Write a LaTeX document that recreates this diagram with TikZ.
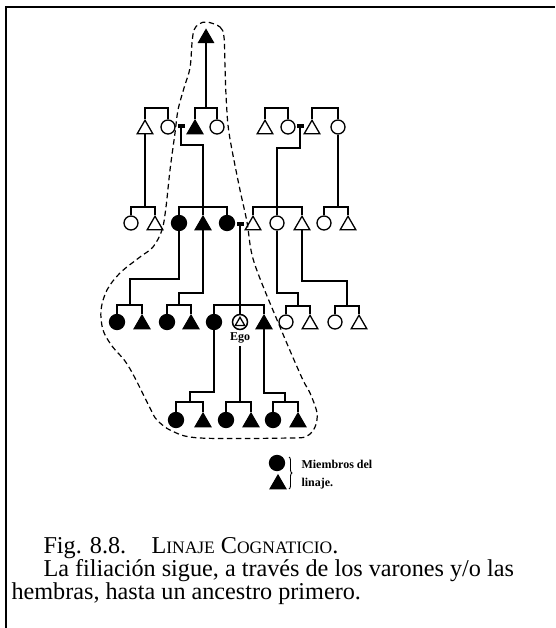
\documentclass[tikz,border=0pt]{standalone}
\usepackage{fontspec}
\setmainfont{Liberation Serif}
\usetikzlibrary{shapes.geometric,decorations.pathreplacing}
\tikzset{
  kin/.style={line width=1.4pt},
  tri/.style={regular polygon, regular polygon sides=3, draw, line width=1.3pt, minimum size=18pt, inner sep=0pt, yshift=-2.25pt},
  ftri/.style={tri, fill=black},
  circ/.style={circle, draw, line width=1.3pt, minimum size=14pt, inner sep=0pt},
  fcirc/.style={circ, fill=black, minimum size=15pt},
  wed/.style={rectangle, fill=black, minimum width=7pt, minimum height=3.5pt, inner sep=0pt},
  egotri/.style={regular polygon, regular polygon sides=3, draw, line width=1.3pt, minimum size=11pt, inner sep=0pt, yshift=-0.8pt},
  lineage/.style={line width=1.2pt, dash pattern=on 5.5pt off 3.5pt},
  captext/.style={anchor=base west, font=\fontsize{24.2}{26}\selectfont},
  smalltext/.style={font=\bfseries\fontsize{12}{13}\selectfont}
}
\newcommand{\scpart}[1]{{\fontsize{17.5}{19}\selectfont #1}}
\begin{document}
\begin{tikzpicture}[x=1pt,y=-1pt]
\useasboundingbox (0,0) rectangle (555,628);
\draw[line width=2.3pt] (6,628) -- (6,7) -- (555,7);

% lineage boundary
\draw[lineage] plot[smooth cycle, tension=0.55] coordinates {
 (207,22) (220,27) (224,37) (225,67) (226,95) (228,125) (232,150) (240,190) (247,222)
 (254,262) (280,327) (302,378) (310,393) (317,413) (315,427) (307,436) (290,438)
 (200,438) (172,431) (157,420) (150,408) (135,378) (125,361) (112,346) (103,330)
 (101,310) (107,290) (120,273) (140,257) (153,247) (162,230) (166,207) (170,170)
 (175,133) (178,110) (184,88) (190,68) (192,43) (194,30) (199,24)};

% generation 1
\node[ftri, minimum size=17pt] (A) at (206,36) {};

% generation 2
\node[tri]  (g2a) at (145,127) {};
\node[circ] (g2b) at (168,127) {};
\node[wed]  (m1)  at (181,126) {};
\node[ftri] (g2c) at (195,127) {};
\node[circ] (g2d) at (217,127) {};
\node[tri]  (g2e) at (265,127) {};
\node[circ] (g2f) at (288,127) {};
\node[wed]  (m2)  at (300,126) {};
\node[tri]  (g2g) at (312,127) {};
\node[circ] (g2h) at (338,127) {};

\coordinate (s2a) at (156,108);
\coordinate (s2b) at (206,108);
\coordinate (s2c) at (276,108);
\coordinate (s2d) at (325,108);
\draw[kin] (g2a.north) |- (s2a) -| (g2b.north);
\draw[kin] (g2c.north) |- (s2b) -| (g2d.north);
\draw[kin] (g2e.north) |- (s2c) -| (g2f.north);
\draw[kin] (g2g.north) |- (s2d) -| (g2h.north);
\draw[kin] (A.south) -- (s2b);

% generation 3
\node[circ]  (g3a) at (131,223) {};
\node[tri]   (g3b) at (155,223) {};
\node[fcirc] (g3c) at (179,223) {};
\node[ftri]  (g3d) at (203,223) {};
\node[fcirc] (g3e) at (227,223) {};
\node[wed]   (m3)  at (240,224) {};
\node[tri]   (g3f) at (253,223) {};
\node[circ]  (g3g) at (277,223) {};
\node[tri]   (g3h) at (302,223) {};
\node[circ]  (g3i) at (324,223) {};
\node[tri]   (g3j) at (348,223) {};

\coordinate (s3a) at (145,207);
\coordinate (s3b) at (203,207);
\coordinate (s3c) at (277,207);
\coordinate (s3d) at (338,207);
\coordinate (k1) at (203,145);
\coordinate (k2) at (277,148);
\draw[kin] (g3a.north) |- (s3a) -| (g3b.north);
\draw[kin] (g2a.south) -- (s3a);
\draw[kin] (g3c.north) |- (s3b) -| (g3e.north);
\draw[kin] (g3d.north) -- (s3b);
\draw[kin] (m1.south) |- (k1) -- (s3b);
\draw[kin] (g3f.north) |- (s3c) -| (g3h.north);
\draw[kin] (g3g.north) -- (s3c);
\draw[kin] (m2.south) |- (k2) -- (s3c);
\draw[kin] (g3i.north) |- (s3d) -| (g3j.north);
\draw[kin] (g2h.south) -- (s3d);

% generation 4
\node[fcirc] (g4a) at (117,322) {};
\node[ftri]  (g4b) at (142,322) {};
\node[fcirc] (g4c) at (167,322) {};
\node[ftri]  (g4d) at (191,322) {};
\node[fcirc] (g4e) at (214,322) {};
\node[circ, minimum size=15pt, line width=1.5pt] (ego) at (240,322) {};
\node[egotri] (egot) at (240,322) {};
\node[ftri]  (g4f) at (264,322) {};
\node[circ]  (g4g) at (286,322) {};
\node[tri]   (g4h) at (310,322) {};
\node[circ]  (g4i) at (335,322) {};
\node[tri]   (g4j) at (359,322) {};
\node[smalltext, anchor=base] (egol) at (240,340) {Ego};

\coordinate (s4a) at (130,305);
\coordinate (s4b) at (179,305);
\coordinate (s4c) at (240,305);
\coordinate (s4d) at (298,306);
\coordinate (s4e) at (347,306);
\coordinate (k3) at (130,279);
\coordinate (k4) at (179,293);
\coordinate (k5) at (298,293);
\coordinate (k6) at (347,281);
\draw[kin] (g4a.north) |- (s4a) -| (g4b.north);
\draw[kin] (g3c.south) |- (k3) -- (s4a);
\draw[kin] (g4c.north) |- (s4b) -| (g4d.north);
\draw[kin] (g3d.south) |- (k4) -- (s4b);
\draw[kin] (g4e.north) |- (s4c) -| (g4f.north);
\draw[kin] (ego.north) -- (s4c);
\draw[kin] (m3.south) -- (s4c);
\draw[kin] (g4g.north) |- (s4d) -| (g4h.north);
\draw[kin] (g3g.south) |- (k5) -- (s4d);
\draw[kin] (g4i.north) |- (s4e) -| (g4j.north);
\draw[kin] (g3h.south) |- (k6) -- (s4e);

% generation 5
\node[fcirc] (g5a) at (176,420) {};
\node[ftri]  (g5b) at (203,420) {};
\node[fcirc] (g5c) at (226,420) {};
\node[ftri]  (g5d) at (251,420) {};
\node[fcirc] (g5e) at (273,420) {};
\node[ftri]  (g5f) at (298,420) {};

\coordinate (s5a) at (190,402);
\coordinate (s5b) at (240,402);
\coordinate (s5c) at (285,402);
\coordinate (k7) at (190,392);
\coordinate (k8) at (285,393);
\draw[kin] (g5a.north) |- (s5a) -| (g5b.north);
\draw[kin] (g4e.south) |- (k7) -- (s5a);
\draw[kin] (g5c.north) |- (s5b) -| (g5d.north);
\draw[kin] (egol.south) -- (s5b);
\draw[kin] (g5e.north) |- (s5c) -| (g5f.north);
\draw[kin] (g4f.south) |- (k8) -- (s5c);

% legend
\node[fcirc] (l1) at (277,463) {};
\node[ftri]  (l2) at (278,482) {};
\draw[line width=0.9pt, decorate, decoration={brace, amplitude=3pt}] (289,457) -- (289,489);
\node[smalltext, anchor=base west] (lt1) at (298,468) {Miembros del};
\node[smalltext, anchor=base west] (lt2) at (298,486) {linaje.};

% caption
\node[captext] (c1) at (40,553) {Fig. 8.8.};
\node[captext] (c1b) at (148,553) {L\scpart{INAJE} C\scpart{OGNATICIO}.};
\node[captext] (c2) at (40,576) {La filiación sigue, a través de los varones y/o las};
\node[captext] (c3) at (8,599) {hembras, hasta un ancestro primero.};
\end{tikzpicture}
\end{document}
